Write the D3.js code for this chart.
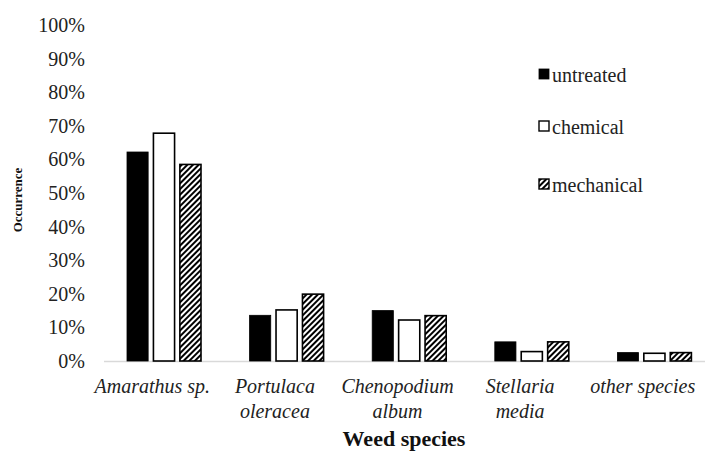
<!DOCTYPE html>
<html><head><meta charset="utf-8">
<script src="https://cdn.jsdelivr.net/npm/d3@7"></script>
<style>body{margin:0;background:#fff}svg{display:block}svg text{font-family:"Liberation Serif";}</style>
</head><body>
<script>
const categories = [["Amarathus sp."],["Portulaca","oleracea"],["Chenopodium","album"],["Stellaria","media"],["other species"]];
const seriesNames = ["untreated","chemical","mechanical"];
const untreated = [0.622,0.136,0.150,0.057,0.025];
const chemical = [0.678,0.152,0.122,0.028,0.023];
const mechanical = [0.585,0.199,0.135,0.057,0.025];
const yTicks = [0,0.1,0.2,0.3,0.4,0.5,0.6,0.7,0.8,0.9,1.0];

const W=705,H=452;
const font='"Liberation Serif"';
const svg=d3.select("body").append("svg").attr("width",W).attr("height",H);
const defs=svg.append("defs");
const pat=defs.append("pattern").attr("id","hatch").attr("patternUnits","userSpaceOnUse")
  .attr("width",4).attr("height",4).attr("patternTransform","rotate(45)");
pat.append("rect").attr("width",4).attr("height",4).attr("fill","#fff");
pat.append("rect").attr("width",2).attr("height",4).attr("fill","#000");

const x=d3.scaleBand().domain(d3.range(categories.length)).range([91,704]).paddingInner(0).paddingOuter(0);
const y=d3.scaleLinear().domain([0,1]).range([361,25]);
const sub=d3.scaleBand().domain(seriesNames).range([36,110]).paddingInner(0.2);

svg.append("line").attr("x1",104).attr("x2",705).attr("y1",y(0)+0.5).attr("y2",y(0)+0.5).attr("stroke","#d9d9d9").attr("stroke-width",1.5);

svg.append("g").selectAll("text").data(yTicks).join("text")
  .attr("x",85).attr("y",d=>y(d)).attr("dy","0.35em").attr("text-anchor","end")
  .style("font-family",font).style("font-size","20px").attr("fill","#222")
  .text(d=>d3.format(".0%")(d));

const data=[untreated,chemical,mechanical];
const fills=["#000","#fff","url(#hatch)"];
seriesNames.forEach((s,si)=>{
  svg.append("g").selectAll("rect").data(data[si]).join("rect")
    .attr("x",(d,i)=>x(i)+sub(s)).attr("width",sub.bandwidth())
    .attr("y",d=>y(d)).attr("height",d=>y(0)-y(d))
    .attr("fill",fills[si]).attr("stroke","#000").attr("stroke-width",si===0?0.8:1.6);
});

const cg=svg.append("g");
categories.forEach((c,i)=>{
  c.forEach((t,j)=>{
    cg.append("text").attr("x",x(i)+x.bandwidth()/2).attr("y",393+j*25)
      .attr("text-anchor","middle").style("font-family",font).style("font-style","italic")
      .style("font-size","20px").attr("fill","#222").text(t);
  });
});

svg.append("text").attr("x",404).attr("y",446).attr("text-anchor","middle")
  .style("font-family",font).style("font-weight","bold").style("font-size","22px").attr("fill","#111").text("Weed species");
svg.append("text").attr("transform","translate(22,200) rotate(-90)").attr("text-anchor","middle")
  .style("font-family",font).style("font-weight","bold").style("font-size","13px").attr("fill","#111").text("Occurrence");

const leg=svg.append("g");
const legY=[75,127,185];
seriesNames.forEach((s,i)=>{
  leg.append("rect").attr("x",539).attr("y",legY[i]-6).attr("width",10).attr("height",10)
    .attr("fill",fills[i]).attr("stroke","#000").attr("stroke-width",i===0?0.8:1.4);
  leg.append("text").attr("x",552).attr("y",legY[i]).attr("dy","0.35em")
    .style("font-family",font).style("font-size","20px").attr("fill","#222").text(s);
});
</script>
</body></html>
